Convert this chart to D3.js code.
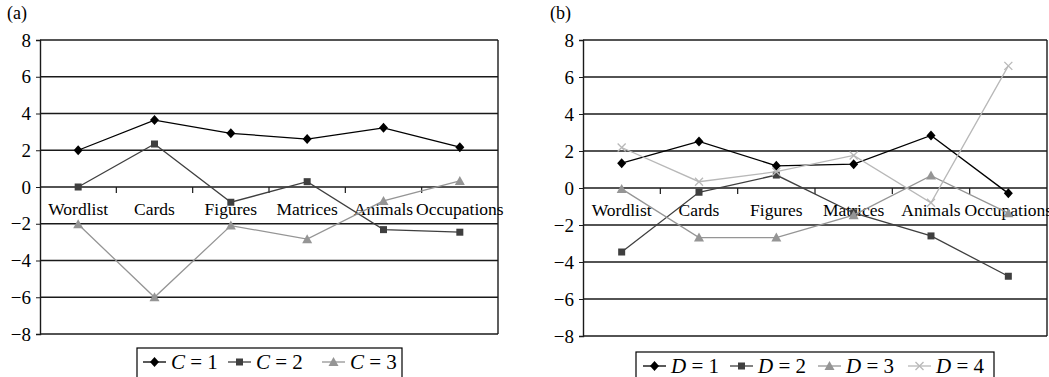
<!DOCTYPE html>
<html>
<head>
<meta charset="utf-8">
<script src="https://cdn.jsdelivr.net/npm/d3@7/dist/d3.min.js"></script>
<style>
  body { margin: 0; background: #fff; }
  svg { display: block; font-family: "Liberation Serif", "DejaVu Serif", serif; }
</style>
</head>
<body>
<svg width="1049" height="377"></svg>
<script>
let categories = ['Wordlist', 'Cards', 'Figures', 'Matrices', 'Animals', 'Occupations']
let yTicks = [-8, -6, -4, -2, 0, 2, 4, 6, 8]

// panel (a)
let valsC1 = [2.0, 3.64, 2.92, 2.61, 3.22, 2.17]
let valsC2 = [0.0, 2.34, -0.83, 0.29, -2.32, -2.46]
let valsC3 = [-2.03, -6.0, -2.1, -2.84, -0.76, 0.33]

// panel (b)
let valsD1 = [1.34, 2.52, 1.2, 1.29, 2.84, -0.29]
let valsD2 = [-3.46, -0.23, 0.7, -1.35, -2.59, -4.77]
let valsD3 = [-0.05, -2.68, -2.68, -1.47, 0.67, -1.36]
let valsD4 = [2.19, 0.34, 0.88, 1.76, -0.8, 6.6]

let styles = [
    {color: '#000', marker: 'diamond'},
    {color: '#3f3f3f', marker: 'square'},
    {color: '#959595', marker: 'triangle'},
    {color: '#b8b8b8', marker: 'cross'},
]

let svg = d3.select('svg')

function drawMarker(g, type, color) {
    if (type === 'diamond') {
        g.append('path').attr('d', 'M0,-5L4.5,0L0,5L-4.5,0Z').attr('fill', color)
    } else if (type === 'square') {
        g.append('rect').attr('x', -3.5).attr('y', -3.5).attr('width', 7).attr('height', 7).attr('fill', color)
    } else if (type === 'triangle') {
        g.append('path').attr('d', 'M0,-5L5,4L-5,4Z').attr('fill', color)
    } else {
        g.append('path').attr('d', 'M-4,-4L4,4M4,-4L-4,4').attr('stroke', color).attr('stroke-width', 1.3)
    }
}

function drawPanel(opts) {
    let x = d3.scaleBand().domain(categories).range([opts.left, opts.right])
    let y = d3.scaleLinear().domain([-8, 8]).range([opts.bottom, opts.top])
    let g = svg.append('g')

    g.append('text')
    .attr('x', opts.labelX).attr('y', 19)
    .style('font-size', '18px')
    .text(opts.label)

    // gridlines
    g.selectAll('.grid')
    .data(yTicks)
    .join('line')
    .attr('x1', opts.left).attr('x2', opts.right)
    .attr('y1', d => y(d)).attr('y2', d => y(d))
    .attr('stroke', '#1a1a1a').attr('stroke-width', 1.4)

    // frame
    g.append('line')
    .attr('x1', opts.right).attr('x2', opts.right)
    .attr('y1', y(8)).attr('y2', y(-8))
    .attr('stroke', '#1a1a1a').attr('stroke-width', 1.4)

    let yAxis = d3.axisLeft(y).tickValues(yTicks).tickSize(4).tickPadding(5)
    .tickFormat(d => d < 0 ? '\u2212' + Math.abs(d) : d)
    let ya = g.append('g').attr('transform', `translate(${opts.left},0)`).call(yAxis)
    ya.select('.domain').attr('stroke', '#1a1a1a').attr('stroke-width', 1.4)
    ya.selectAll('.tick line').attr('stroke', '#1a1a1a')
    ya.selectAll('text').style('font-size', '19px').attr('fill', '#000')
    .style('font-family', '"Liberation Serif", serif')

    // category ticks on zero line
    g.selectAll('.xtick')
    .data(categories.slice(1))
    .join('line')
    .attr('x1', d => x(d)).attr('x2', d => x(d))
    .attr('y1', y(0)).attr('y2', y(0) + 6)
    .attr('stroke', '#1a1a1a').attr('stroke-width', 1.2)

    g.selectAll('.xlabel')
    .data(categories)
    .join('text')
    .attr('x', d => x(d) + x.bandwidth() / 2)
    .attr('y', y(0) + 28)
    .attr('text-anchor', 'middle')
    .style('font-size', '17.5px')
    .text(d => d)

    let line = d3.line()
    .x((d, i) => x(categories[i]) + x.bandwidth() / 2)
    .y(d => y(d))

    opts.series.forEach((s, k) => {
        let st = styles[k]
        g.append('path')
        .datum(s)
        .attr('d', line)
        .attr('fill', 'none')
        .attr('stroke', st.color)
        .attr('stroke-width', 1.3)
        s.forEach((v, i) => {
            let m = g.append('g')
            .attr('transform', `translate(${x(categories[i]) + x.bandwidth() / 2},${y(v)})`)
            drawMarker(m, st.marker, st.color)
        })
    })

    // legend
    let lg = g.append('g')
    lg.append('rect')
    .attr('x', opts.legend.x).attr('y', opts.legend.y)
    .attr('width', opts.legend.w).attr('height', 40)
    .attr('fill', '#fff').attr('stroke', '#000').attr('stroke-width', 1.2)
    opts.series.forEach((s, k) => {
        let st = styles[k]
        let lx = opts.legend.items[k]
        let cy = opts.legend.y + 14
        lg.append('line')
        .attr('x1', lx).attr('x2', lx + 23)
        .attr('y1', cy).attr('y2', cy)
        .attr('stroke', st.color).attr('stroke-width', 1.3)
        let m = lg.append('g').attr('transform', `translate(${lx + 11.5},${cy})`)
        drawMarker(m, st.marker, st.color)
        let t = lg.append('text')
        .attr('x', lx + 28).attr('y', cy + 7)
        .style('font-size', '21px')
        t.append('tspan').style('font-style', 'italic').text(opts.legend.letter)
        t.append('tspan').text(' = ' + (k + 1))
    })
}

drawPanel({
    label: '(a)', labelX: 7,
    left: 40, right: 498, top: 40, bottom: 334,
    series: [valsC1, valsC2, valsC3],
    legend: {x: 137, y: 348, w: 265, letter: 'C', items: [143, 228, 322]}
})

drawPanel({
    label: '(b)', labelX: 550,
    left: 583, right: 1047, top: 40, bottom: 336,
    series: [valsD1, valsD2, valsD3, valsD4],
    legend: {x: 636, y: 352, w: 358, letter: 'D', items: [643, 730, 818, 908]}
})
</script>
</body>
</html>
